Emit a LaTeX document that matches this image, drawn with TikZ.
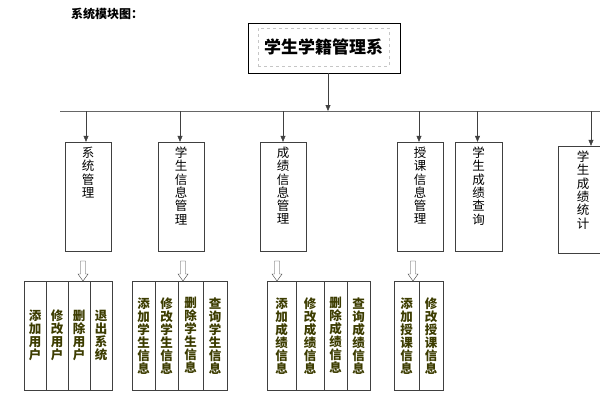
\documentclass[tikz,border=0pt]{standalone}
\usepackage{fontspec}
\newfontfamily\cjk{Noto Sans CJK SC}
\usetikzlibrary{arrows.meta}
\definecolor{olivetext}{RGB}{60,60,0}
\definecolor{linegray}{RGB}{64,64,64}
\tikzset{
  module/.style={draw=linegray, minimum width=46pt, minimum height=109pt, inner sep=0pt},
  modtext/.style={font=\cjk\fontsize{12.5}{13.3}\selectfont, align=center, anchor=north, inner sep=0pt},
  task/.style={draw=linegray, minimum height=109pt, inner sep=0pt, anchor=north west,
    font=\cjk\bfseries\fontsize{12.5}{13}\selectfont, text=olivetext, align=center},
  feed/.style={draw=linegray, -{Triangle[length=6pt,width=5pt]}},
}
% hollow down arrow, tip at #1
\newcommand{\hollowdown}[1]{\draw[linegray, fill=white] (#1) -- ++(-5,-7) -- ++(2.5,0) -- ++(0,-13) -- ++(5,0) -- ++(0,13) -- ++(2.5,0) -- cycle;}
\begin{document}
\begin{tikzpicture}[x=1pt,y=-1pt]
\useasboundingbox (0,0) rectangle (600,400);
\clip (0,0) rectangle (600,400);
% Title
\node[anchor=west, inner sep=0pt, font=\cjk\bfseries\fontsize{12}{12}\selectfont] (title) at (71,14) {系统模块图：};
% Root box
\node[draw=black, minimum width=152pt, minimum height=50pt] (root) at (324,48) {};
\node[draw=gray!45, dashed, minimum width=131pt, minimum height=38pt,
  font=\cjk\bfseries\fontsize{17}{17}\selectfont] (roottext) at (323.5,47) {学生学籍管理系};
% Bus line
\coordinate (busL) at (60,111);
\coordinate (busR) at (600,111);
\draw[gray!80!black] (busL) -- (busR);
\draw[feed] ([xshift=4pt]root.south) -- ([xshift=4pt]root.south |- busL);
% Modules
\node[module] (m1) at (88,196.5) {};
\node[module] (m2) at (181,196.5) {};
\node[module] (m3) at (283,196.5) {};
\node[module] (m4) at (420,196.5) {};
\node[module, minimum width=47pt] (m5) at (478.5,196.5) {};
\node[module, minimum width=50pt, minimum height=107pt] (m6) at (583,199.5) {};
\node[modtext] (m1t) at ([yshift=-5pt]m1.north) {系\\统\\管\\理};
\node[modtext] (m2t) at ([yshift=-5pt]m2.north) {学\\生\\信\\息\\管\\理};
\node[modtext] (m3t) at ([yshift=-5pt]m3.north) {成\\绩\\信\\息\\管\\理};
\node[modtext] (m4t) at ([yshift=-5pt]m4.north) {授\\课\\信\\息\\管\\理};
\node[modtext] (m5t) at ([yshift=-5pt]m5.north) {学\\生\\成\\绩\\查\\询};
\node[modtext] (m6t) at ([yshift=-5pt]m6.north) {学\\生\\成\\绩\\统\\计};
% Arrows from bus
\draw[feed] ([xshift=-2pt]m1.north |- busL) -- ([xshift=-2pt]m1.north);
\draw[feed] ([xshift=-1pt]m2.north |- busL) -- ([xshift=-1pt]m2.north);
\draw[feed] (m3.north |- busL) -- (m3.north);
\draw[feed] ([xshift=-1pt]m4.north |- busL) -- ([xshift=-1pt]m4.north);
\draw[feed] ([xshift=-1pt]m5.north |- busL) -- ([xshift=-1pt]m5.north);
\draw[feed] ([xshift=8pt]m6.north |- busL) -- ([xshift=8pt]m6.north);
% Tasks of system management
\node[task, minimum width=22pt] (a1) at (24,281) {添\\加\\用\\户};
\node[task, minimum width=22pt] (a2) at (46,281) {修\\改\\用\\户};
\node[task, minimum width=22pt] (a3) at (68,281) {删\\除\\用\\户};
\node[task, minimum width=22pt] (a4) at (90,281) {退\\出\\系\\统};
% Tasks of student information
\node[task, minimum width=23pt] (b1) at (132,281) {添\\加\\学\\生\\信\\息};
\node[task, minimum width=23pt] (b2) at (155,281) {修\\改\\学\\生\\信\\息};
\node[task, minimum width=25pt] (b3) at (178,281) {删\\除\\学\\生\\信\\息};
\node[task, minimum width=24pt] (b4) at (203,281) {查\\询\\学\\生\\信\\息};
% Tasks of score information
\node[task, minimum width=29pt] (c1) at (267,281) {添\\加\\成\\绩\\信\\息};
\node[task, minimum width=28pt] (c2) at (296,281) {修\\改\\成\\绩\\信\\息};
\node[task, minimum width=23pt] (c3) at (324,281) {删\\除\\成\\绩\\信\\息};
\node[task, minimum width=23pt] (c4) at (347,281) {查\\询\\成\\绩\\信\\息};
% Tasks of course information
\node[task, minimum width=25pt] (d1) at (394,281) {添\\加\\授\\课\\信\\息};
\node[task, minimum width=24pt] (d2) at (419,281) {修\\改\\授\\课\\信\\息};
% Hollow arrows
\hollowdown{83,281}
\hollowdown{183,281}
\hollowdown{277,281}
\hollowdown{413,281}
\end{tikzpicture}
\end{document}
